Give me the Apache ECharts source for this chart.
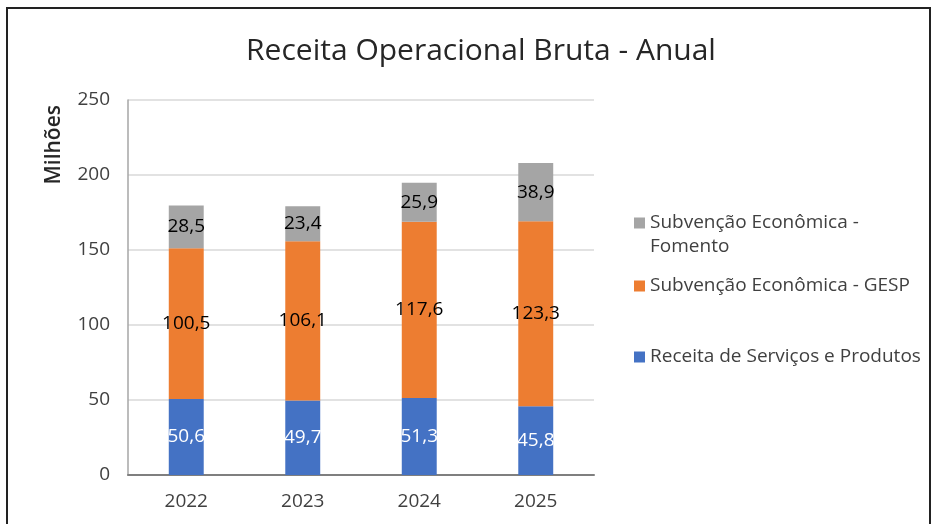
<!DOCTYPE html>
<html>
<head>
<meta charset="utf-8">
<script src="https://cdn.jsdelivr.net/npm/echarts@6/dist/echarts.min.js"></script>
<style>
  html, body { margin: 0; padding: 0; background: #fff; }
  #main { width: 936px; height: 524px; }
</style>
</head>
<body>
<div id="main"></div>
<script>
// dados do gráfico
var anos = ['2022', '2023', '2024', '2025'];
var receitaServicos = [50.6, 49.7, 51.3, 45.8];
var subvencaoGesp = [100.5, 106.1, 117.6, 123.3];
var subvencaoFomento = [28.5, 23.4, 25.9, 38.9];
var yTicks = [0, 50, 100, 150, 200, 250];

var fonte = '"Open Sans", "Noto Sans", sans-serif';

var chart = echarts.init(document.getElementById('main'));

function fmt(p) {
  return String(p.value).replace('.', ',');
}

var legendText = { fontFamily: fonte, fontSize: 19, color: '#404040', lineHeight: 26 };

chart.setOption({
  animation: false,
  textStyle: { fontFamily: fonte },
  title: {
    text: 'Receita Operacional Bruta - Anual',
    left: 476, top: 31, textAlign: 'center',
    textStyle: { fontFamily: fonte, fontSize: 30, fontWeight: 'normal', color: '#262626' }
  },
  graphic: [{
    type: 'rect', silent: true,
    shape: { x: 7, y: 8, width: 923, height: 540 },
    style: { fill: 'none', stroke: '#222', lineWidth: 2 }
  }, {
    // segunda linha da primeira legenda
    type: 'text', left: 650, top: 237, silent: true,
    style: { text: 'Fomento', font: '19px ' + fonte, fill: '#404040' }
  }],
  legend: [{
    orient: 'vertical', left: 629, top: 205, itemWidth: 11, itemHeight: 11, icon: 'rect',
    data: ['Subvenção Econômica - Fomento'],
    formatter: function () { return 'Subvenção Econômica -'; },
    textStyle: legendText
  }, {
    orient: 'vertical', left: 629, top: 268, itemWidth: 11, itemHeight: 11, icon: 'rect',
    data: ['Subvenção Econômica - GESP'], textStyle: legendText
  }, {
    orient: 'vertical', left: 629, top: 339, itemWidth: 11, itemHeight: 11, icon: 'rect',
    data: ['Receita de Serviços e Produtos'], textStyle: legendText
  }],
  grid: { left: 128, right: 342, top: 100, bottom: 49 },
  xAxis: {
    type: 'category', data: anos,
    axisLine: { lineStyle: { color: '#7f7f7f', width: 2 } },
    axisTick: { show: false },
    axisLabel: { fontSize: 19, color: '#404040', margin: 17 }
  },
  yAxis: {
    type: 'value', min: yTicks[0], max: yTicks[yTicks.length - 1], interval: 50,
    name: 'Milhões', nameLocation: 'end', nameRotate: 90, nameGap: 0,
    nameTextStyle: { fontSize: 21, fontWeight: 600, color: '#262626', align: 'right', verticalAlign: 'bottom', padding: [0, 5, 63, 0] },
    axisLine: { show: true, lineStyle: { color: '#a6a6a6', width: 1.5 } },
    axisTick: { show: false },
    axisLabel: { fontSize: 19, color: '#404040', margin: 18 },
    splitLine: { lineStyle: { color: '#d9d9d9', width: 1.5 } }
  },
  series: [{
    name: 'Receita de Serviços e Produtos', type: 'bar', stack: 't',
    data: receitaServicos, barWidth: '30%',
    itemStyle: { color: '#4472C4' },
    label: { show: true, position: 'inside', fontSize: 19, color: '#ffffff', formatter: fmt }
  }, {
    name: 'Subvenção Econômica - GESP', type: 'bar', stack: 't',
    data: subvencaoGesp,
    itemStyle: { color: '#ED7D31' },
    label: { show: true, position: 'inside', fontSize: 19, color: '#000000', formatter: fmt }
  }, {
    name: 'Subvenção Econômica - Fomento', type: 'bar', stack: 't',
    data: subvencaoFomento,
    itemStyle: { color: '#A5A5A5' },
    label: { show: true, position: 'inside', fontSize: 19, color: '#000000', formatter: fmt }
  }]
});
</script>
</body>
</html>
